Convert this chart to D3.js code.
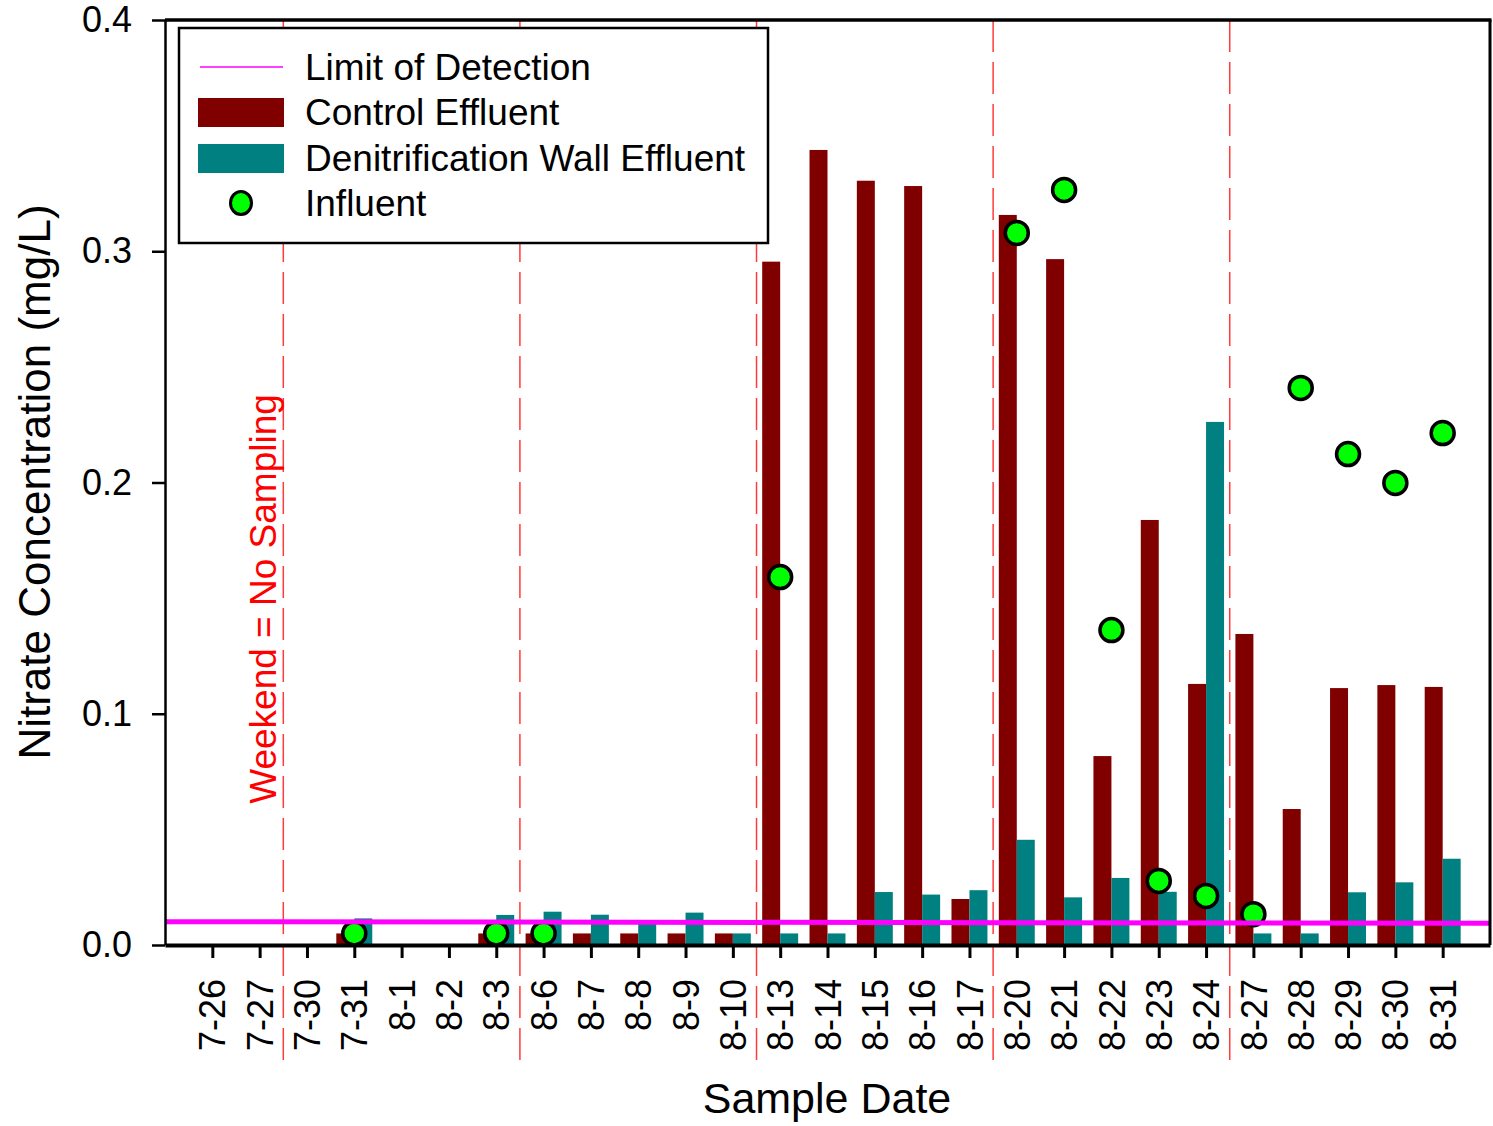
<!DOCTYPE html>
<html><head><meta charset="utf-8">
<script src="https://cdn.jsdelivr.net/npm/d3@7"></script>
<style>
html,body{margin:0;padding:0;background:#fff;}
svg text{font-family:"Liberation Sans",Arial,sans-serif;}
</style></head>
<body><svg id="chart" width="1493" height="1126"></svg>
<script>
const categories = ["7-26","7-27","7-30","7-31","8-1","8-2","8-3","8-6","8-7","8-8","8-9","8-10","8-13","8-14","8-15","8-16","8-17","8-20","8-21","8-22","8-23","8-24","8-27","8-28","8-29","8-30","8-31"];
const controlEffluent = [null,null,null,0.005,null,null,0.005,0.005,0.005,0.005,0.005,0.005,0.2955,0.3438,0.3305,0.3282,0.0199,0.3157,0.2966,0.0817,0.1838,0.1129,0.1345,0.0588,0.1111,0.1124,0.1116];
const wallEffluent = [null,null,null,0.0115,null,null,0.013,0.0144,0.0131,0.0108,0.014,0.005,0.005,0.005,0.0229,0.0218,0.0237,0.0455,0.0206,0.029,0.023,0.2262,0.005,0.005,0.0228,0.0271,0.0373];
const influent = [null,null,null,0.005,null,null,0.005,0.005,null,null,null,null,0.1591,null,null,null,null,0.3079,0.3265,0.1362,0.0277,0.0212,0.0133,0.2409,0.2123,0.1998,0.2214];
const limitOfDetection = [0.0101, 0.0094]; // at left and right edge of plot
const weekendBreaks = ["7-27","8-3","8-10","8-17","8-24"]; // dashed line after these dates
const yTicks = [0.0,0.1,0.2,0.3,0.4];
const legendLabels = ["Limit of Detection","Control Effluent","Denitrification Wall Effluent","Influent"];

const svg = d3.select("#chart");
const L = 165, R = 1490, T = 20, B = 945;
const x = d3.scaleLinear().domain([0, categories.length + 1]).range([L, R]);
const y = d3.scaleLinear().domain([0, 0.4]).range([B, T]);
const bw = x(0.38) - x(0);
const C_RED = "#800000", C_TEAL = "#008080", C_GREEN = "#00ff00", C_MAG = "#ff00ff", C_DASH = "#ff3b3b";

// dashed weekend lines
svg.append("g").selectAll("line").data(weekendBreaks).join("line")
  .attr("x1", d => x(categories.indexOf(d) + 1.5)).attr("x2", d => x(categories.indexOf(d) + 1.5))
  .attr("y1", T).attr("y2", 1060)
  .attr("stroke", C_DASH).attr("stroke-width", 1.5).attr("stroke-dasharray", "32,10");

// bars
const idx = d3.range(categories.length);
svg.append("g").selectAll("rect").data(idx.filter(i => controlEffluent[i] != null)).join("rect")
  .attr("x", i => x(i + 1) - bw).attr("width", bw)
  .attr("y", i => y(controlEffluent[i])).attr("height", i => y(0) - y(controlEffluent[i]))
  .attr("fill", C_RED);
svg.append("g").selectAll("rect").data(idx.filter(i => wallEffluent[i] != null)).join("rect")
  .attr("x", i => x(i + 1)).attr("width", bw)
  .attr("y", i => y(wallEffluent[i])).attr("height", i => y(0) - y(wallEffluent[i]))
  .attr("fill", C_TEAL);

// influent points
svg.append("g").selectAll("circle").data(idx.filter(i => influent[i] != null)).join("circle")
  .attr("cx", i => x(i + 1)).attr("cy", i => y(influent[i])).attr("r", 11.5)
  .attr("fill", C_GREEN).attr("stroke", "#000").attr("stroke-width", 3.5);

// limit of detection
svg.append("line")
  .attr("x1", x(0)).attr("x2", x(categories.length + 1))
  .attr("y1", y(limitOfDetection[0])).attr("y2", y(limitOfDetection[1]))
  .attr("stroke", C_MAG).attr("stroke-width", 5);

// frame top/right
svg.append("line").attr("x1", L).attr("x2", R + 1.5).attr("y1", T).attr("y2", T).attr("stroke", "#000").attr("stroke-width", 3.5);
svg.append("line").attr("x1", R).attr("x2", R).attr("y1", T).attr("y2", B).attr("stroke", "#000").attr("stroke-width", 3);

// axes
const yAxis = svg.append("g").attr("transform", `translate(${L},0)`)
  .call(d3.axisLeft(y).tickValues(yTicks).tickFormat(d3.format(".1f")).tickSize(13).tickPadding(20).tickSizeOuter(0));
yAxis.select(".domain").attr("stroke-width", 2.5);
yAxis.selectAll(".tick line").attr("stroke-width", 2.5);
yAxis.selectAll("text").attr("font-size", 36).attr("fill", "#000");

const xAxis = svg.append("g").attr("transform", `translate(0,${B})`)
  .call(d3.axisBottom(x).tickValues(d3.range(1, categories.length + 1)).tickFormat(d => categories[d - 1]).tickSize(13).tickSizeOuter(0));
xAxis.select(".domain").attr("stroke-width", 4);
xAxis.selectAll(".tick line").attr("stroke-width", 3);
xAxis.selectAll("text").attr("font-size", 36).attr("fill", "#000")
  .attr("text-anchor", "end").attr("y", 0).attr("dy", "0.35em")
  .attr("transform", "translate(0,34) rotate(-90)");

// axis titles
svg.append("text").attr("transform", "translate(50,482) rotate(-90)").attr("text-anchor", "middle")
  .attr("font-size", 44).text("Nitrate Concentration (mg/L)");
svg.append("text").attr("x", 827).attr("y", 1113).attr("text-anchor", "middle")
  .attr("font-size", 43).text("Sample Date");
svg.append("text").attr("transform", "translate(276,599) rotate(-90)").attr("text-anchor", "middle")
  .attr("font-size", 37).attr("fill", "#ff0000").text("Weekend = No Sampling");

// legend
const lg = svg.append("g");
lg.append("rect").attr("x", 179).attr("y", 28).attr("width", 589).attr("height", 215)
  .attr("fill", "#fff").attr("stroke", "#000").attr("stroke-width", 2.5);
const rowY = [67, 112, 158, 203];
lg.append("line").attr("x1", 200).attr("x2", 283).attr("y1", rowY[0]).attr("y2", rowY[0]).attr("stroke", C_MAG).attr("stroke-width", 1.5);
lg.append("rect").attr("x", 198).attr("y", rowY[1] - 14).attr("width", 86).attr("height", 29).attr("fill", C_RED);
lg.append("rect").attr("x", 198).attr("y", rowY[2] - 14).attr("width", 86).attr("height", 29).attr("fill", C_TEAL);
lg.append("ellipse").attr("cx", 241).attr("cy", rowY[3]).attr("rx", 10.5).attr("ry", 11.5)
  .attr("fill", C_GREEN).attr("stroke", "#000").attr("stroke-width", 3);
lg.selectAll("text.lbl").data(legendLabels).join("text").attr("class", "lbl")
  .attr("x", 305).attr("y", (d, i) => rowY[i]).attr("dy", "0.36em")
  .attr("font-size", 37).text(d => d);
</script></body></html>
